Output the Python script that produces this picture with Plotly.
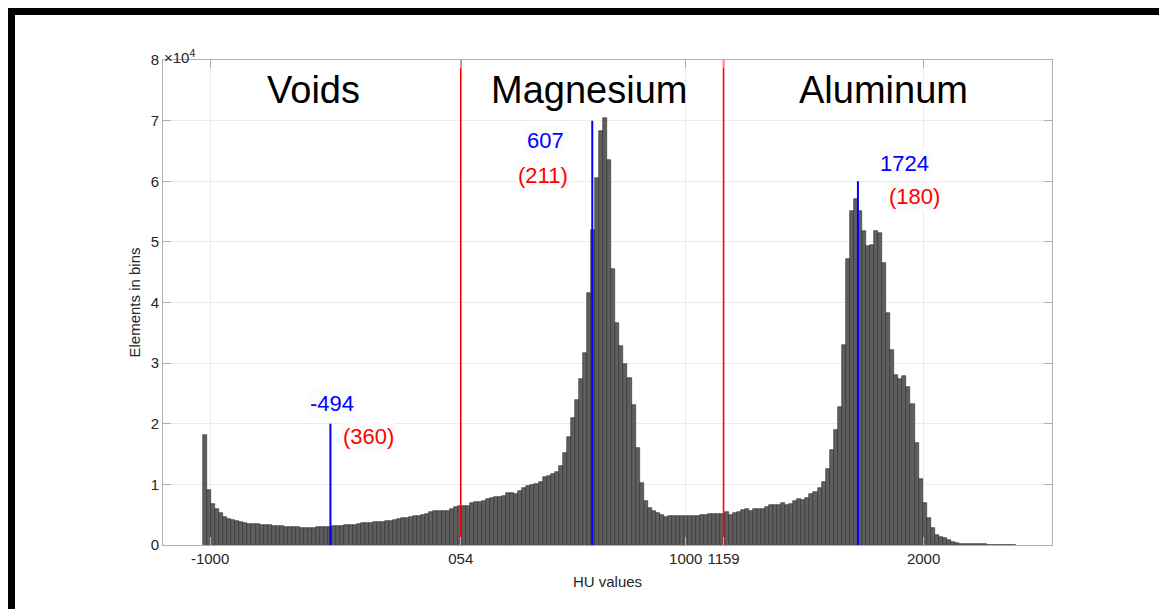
import numpy as np
import plotly.graph_objects as go

# ---------------- data ----------------
BIN_START = -1030
BIN_WIDTH = 17
counts = [
    18200, 9070, 6700, 5900, 5200, 4700, 4350, 4140, 3900, 3740,
    3630, 3520, 3470, 3410, 3360, 3300, 3250, 3200, 3140, 3080,
    3030, 2970, 2920, 2920, 2860, 2860, 2860, 2860, 2970, 2920,
    2920, 3030, 3080, 3140, 3200, 3250, 3250, 3360, 3470, 3580,
    3630, 3690, 3740, 3800, 3850, 3900, 3960, 4070, 4300, 4400,
    4450, 4560, 4730, 4800, 4900, 5050, 5450, 5550, 5550, 5600,
    5660, 6000, 6270, 6500, 6500, 6450, 6880, 7100, 7100, 7260,
    7540, 7760, 7870, 7980, 8100, 8640, 8530, 8420, 8860, 9400,
    9740, 9960, 10070, 10400, 11280, 11450, 11700, 12050, 13000, 15100,
    17750, 20890, 24000, 27450, 31630, 41500, 52000, 60500, 68300, 70500,
    63500, 45500, 36600, 32800, 29800, 27500, 23100, 15950, 10170, 7260,
    6050, 5660, 5220, 4950, 4670, 4780, 4780, 4840, 4780, 4780,
    4840, 4840, 4840, 4890, 4890, 5060, 5060, 5060, 5110, 5450,
    4950, 5220, 5500, 5770, 5880, 5660, 6000, 6000, 6000, 6210,
    6650, 6650, 6650, 6870, 6650, 6760, 7200, 7530, 7420, 7750,
    8400, 8740, 9400, 10400, 12480, 15670, 18970, 22800, 33000, 47100,
    55150, 57100, 55100, 51850, 49300, 49500, 51800, 51500, 46500, 38300,
    32200, 28000, 27300, 27800, 26100, 23300, 16800, 10900, 6900, 4400,
    2800, 1600, 1400, 1150, 750, 420, 270, 200, 180, 150,
    130, 110, 100, 90, 80, 70, 60, 50, 40, 30, 20,
]

region_names = ["Voids", "Magnesium", "Aluminum"]
region_bounds = [54, 1159]
means = [-494, 607, 1724]
stds = [360, 211, 180]
mean_line_tops = [20000, 70000, 60000]

x_tickvals = [-1000, 54, 1000, 1159, 2000]
x_ticktext = ["-1000", "054", "1000", "1159", "2000"]
y_tickvals = [0, 10000, 20000, 30000, 40000, 50000, 60000, 70000, 80000]
y_ticktext = ["0", "1", "2", "3", "4", "5", "6", "7", "8"]

# ---------------- layout helpers (positions, not data) ----------------
OFF = 8                      # page body margin of the html file
W, H = 1167 - OFF, 609 - OFF
ML, MT = 163 - OFF, 60 - OFF
MR = W - (1052 - OFF)
MB = H - (545 - OFF)
PW, PH = W - ML - MR, H - MT - MB

def px_x(px):                # page pixel -> paper fraction
    return (px - OFF - ML) / PW

def px_y(py):
    return (H - MB - (py - OFF)) / PH

region_label_x = [-565, 595, 1831]
region_label_y = 75000
mean_label_pos = [(-486, 23400), (411, 66800), (1919, 63000)]
std_label_pos = [(-336, 17860), (400, 61030), (1961, 57450)]

FONT = "Liberation Sans, Arial, sans-serif"

centers = BIN_START + BIN_WIDTH * (np.arange(len(counts)) + 0.5)

fig = go.Figure()
fig.add_trace(go.Bar(
    x=centers, y=counts, width=BIN_WIDTH,
    marker=dict(color="#5f5f5f", line=dict(color="#2a2a2a", width=0.6)),
    showlegend=False, hoverinfo="x+y",
))

for b in region_bounds:
    fig.add_trace(go.Scatter(x=[b, b], y=[0, 80000], mode="lines",
                             line=dict(color="#ff0000", width=1.6),
                             showlegend=False, hoverinfo="skip"))
for m, top in zip(means, mean_line_tops):
    fig.add_trace(go.Scatter(x=[m, m], y=[0, top], mode="lines",
                             line=dict(color="#0000ff", width=2),
                             showlegend=False, hoverinfo="skip"))

annotations = []
for name, lx in zip(region_names, region_label_x):
    annotations.append(dict(x=lx, y=region_label_y, xref="x", yref="y",
                            text=name, showarrow=False,
                            font=dict(family=FONT, size=38, color="#000000"),
                            xanchor="center", yanchor="middle"))
for m, (lx, ly) in zip(means, mean_label_pos):
    annotations.append(dict(x=lx, y=ly, xref="x", yref="y", text=str(m),
                            showarrow=False, bgcolor="#fcfcfc",
                            font=dict(family=FONT, size=22, color="#0000ff"),
                            xanchor="center", yanchor="middle"))
for s, (lx, ly) in zip(stds, std_label_pos):
    annotations.append(dict(x=lx, y=ly, xref="x", yref="y", text=f"({s})",
                            showarrow=False, bgcolor="#fcfcfc",
                            font=dict(family=FONT, size=22, color="#ff0000"),
                            xanchor="center", yanchor="middle"))
annotations.append(dict(x=px_x(162), y=px_y(68), xref="paper", yref="paper",
                        text="×10<sup>4</sup>", showarrow=False,
                        font=dict(family=FONT, size=15, color="#262626"),
                        xanchor="left", yanchor="bottom"))

# black frame around the picture
shapes = [
    dict(type="rect", xref="paper", yref="paper", x0=px_x(8), x1=px_x(1167),
         y0=px_y(15), y1=px_y(8), fillcolor="#000000", line=dict(width=0), layer="above"),
    dict(type="rect", xref="paper", yref="paper", x0=px_x(8), x1=px_x(15),
         y0=px_y(609), y1=px_y(8), fillcolor="#000000", line=dict(width=0), layer="above"),
    dict(type="rect", xref="paper", yref="paper", x0=px_x(1161), x1=px_x(1167),
         y0=px_y(609), y1=px_y(8), fillcolor="#000000", line=dict(width=0), layer="above"),
]

axis_common = dict(
    showgrid=True, gridcolor="#ebebeb", gridwidth=1,
    ticks="inside", ticklen=8, tickcolor="#b0b0b0", tickwidth=1,
    showline=True, linecolor="#b0b0b0", linewidth=1, mirror="ticks",
    zeroline=False, tickfont=dict(family=FONT, size=15, color="#262626"),
)

fig.update_layout(
    width=W, height=H,
    margin=dict(l=ML, r=MR, t=MT, b=MB, autoexpand=False),
    paper_bgcolor="#ffffff", plot_bgcolor="#ffffff",
    bargap=0, showlegend=False,
    xaxis=dict(range=[-1198, 2540], tickmode="array", tickvals=x_tickvals,
               ticktext=x_ticktext,
               title=dict(text="HU values", font=dict(family=FONT, size=15, color="#262626"),
                          standoff=10),
               **axis_common),
    yaxis=dict(range=[0, 80000], tickmode="array", tickvals=y_tickvals,
               ticktext=y_ticktext,
               title=dict(text="Elements in bins", font=dict(family=FONT, size=15, color="#262626"),
                          standoff=6),
               **axis_common),
    annotations=annotations,
    shapes=shapes,
)

fig.write_html("out.html")
